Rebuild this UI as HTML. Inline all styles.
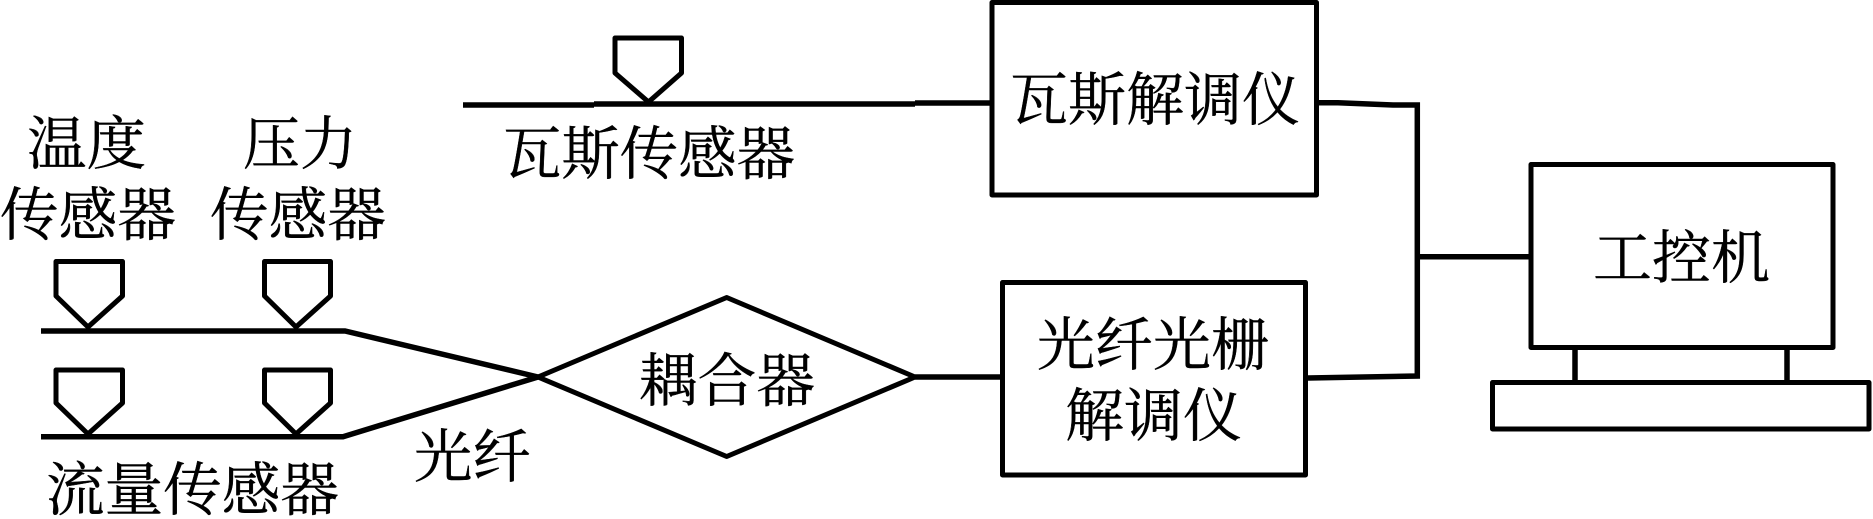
<!DOCTYPE html>
<html><head><meta charset="utf-8"><style>
html,body{margin:0;padding:0;background:#fff}
svg{display:block}
text{font-family:"Liberation Serif","Noto Serif CJK SC",serif;font-size:58px;fill:#000;stroke:#000;stroke-width:.4}
.s{fill:#fff;stroke:#000;stroke-width:5;stroke-linejoin:round}
.l{fill:none;stroke:#000;stroke-width:5.5}
.b{fill:none;stroke:#000;stroke-width:5;stroke-linejoin:round}
</style></head><body>
<svg width="1873" height="519" viewBox="0 0 1873 519" xmlns="http://www.w3.org/2000/svg">
<rect width="1873" height="519" fill="#fff"/>
<!-- sensors -->
<path class="s" d="M615 38H681.500V73L648.500 102L615 73Z"/>
<path class="s" d="M56 261.500H122.500V296L88 327L56 296Z"/>
<path class="s" d="M264.500 261.500H330.500V296L296 327L264.500 296Z"/>
<path class="s" d="M56 370H122.500V403L88 434L56 403Z"/>
<path class="s" d="M264.500 370H330.500V403L296 434L264.500 403Z"/>
<!-- lines -->
<path class="l" d="M463 105H594M594 104H915M915 103H990"/>
<path class="l" d="M41 331H345L538 377"/>
<path class="l" d="M41 436.700H343L538 377"/>
<path class="b" d="M538 377L726.700 297.500L915 377L726.700 456.500Z"/>
<path class="l" d="M915 377H1000"/>
<path class="l" d="M1319 102.700H1338L1393 105H1417.300V376L1308 378"/>
<path class="l" d="M1417 256.700H1529"/>
<!-- boxes -->
<rect class="b" x="992" y="2.500" width="324.500" height="192.500"/>
<rect class="b" x="1002.500" y="282.500" width="303" height="192.500"/>
<rect class="b" x="1531" y="164.500" width="302" height="183"/>
<path class="l" d="M1575 347V382M1787 347V382"/>
<rect class="b" x="1492.500" y="382.500" width="376.500" height="46.500"/>
<!-- labels -->
<text x="27" y="164" textLength="119" lengthAdjust="spacingAndGlyphs">温度</text>
<text x="243" y="164" textLength="114" lengthAdjust="spacingAndGlyphs">压力</text>
<text x="0" y="235" textLength="176" lengthAdjust="spacingAndGlyphs">传感器</text>
<text x="210" y="235" textLength="176" lengthAdjust="spacingAndGlyphs">传感器</text>
<text x="503" y="174" textLength="292" lengthAdjust="spacingAndGlyphs">瓦斯传感器</text>
<text x="639" y="401" textLength="176" lengthAdjust="spacingAndGlyphs">耦合器</text>
<text x="414" y="477" textLength="117" lengthAdjust="spacingAndGlyphs">光纤</text>
<text x="46" y="510" textLength="293" lengthAdjust="spacingAndGlyphs">流量传感器</text>
<text x="1010" y="120" textLength="290" lengthAdjust="spacingAndGlyphs">瓦斯解调仪</text>
<text x="1037" y="365" textLength="232" lengthAdjust="spacingAndGlyphs">光纤光栅</text>
<text x="1065" y="436" textLength="177" lengthAdjust="spacingAndGlyphs">解调仪</text>
<text x="1593" y="278" textLength="177" lengthAdjust="spacingAndGlyphs">工控机</text>
</svg>
</body></html>
